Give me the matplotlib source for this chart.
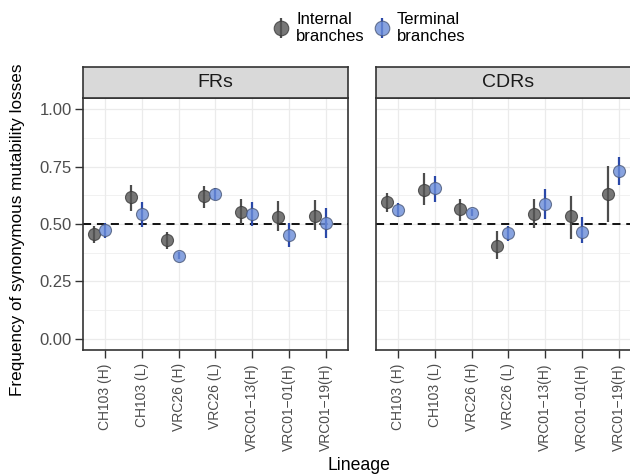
import matplotlib
matplotlib.use('Agg')
import matplotlib.pyplot as plt
from matplotlib.lines import Line2D
from matplotlib.ticker import MultipleLocator, FormatStrFormatter
import numpy as np

plt.rcParams['font.family'] = ['Liberation Sans', 'DejaVu Sans']

lineages = ['CH103 (H)', 'CH103 (L)', 'VRC26 (H)', 'VRC26 (L)',
            'VRC01\u221213(H)', 'VRC01\u221201(H)', 'VRC01\u221219(H)']
panels = ['FRs', 'CDRs']
series_labels = ['Internal\nbranches', 'Terminal\nbranches']

fr_int = [0.456, 0.616, 0.428, 0.622, 0.552, 0.530, 0.536]
fr_int_lo = [0.415, 0.557, 0.392, 0.571, 0.499, 0.470, 0.475]
fr_int_hi = [0.491, 0.670, 0.464, 0.665, 0.608, 0.598, 0.604]
fr_term = [0.473, 0.543, 0.361, 0.630, 0.543, 0.451, 0.505]
fr_term_lo = [0.440, 0.488, 0.345, 0.604, 0.490, 0.399, 0.438]
fr_term_hi = [0.502, 0.595, 0.378, 0.656, 0.595, 0.502, 0.569]

cdr_int = [0.597, 0.648, 0.563, 0.403, 0.541, 0.533, 0.630]
cdr_int_lo = [0.553, 0.582, 0.514, 0.348, 0.483, 0.434, 0.508]
cdr_int_hi = [0.635, 0.721, 0.607, 0.469, 0.608, 0.622, 0.753]
cdr_term = [0.559, 0.658, 0.549, 0.461, 0.588, 0.466, 0.731]
cdr_term_lo = [0.531, 0.597, 0.535, 0.426, 0.523, 0.418, 0.670]
cdr_term_hi = [0.590, 0.709, 0.563, 0.492, 0.652, 0.530, 0.792]

data = {
    'FRs': [(fr_int, fr_int_lo, fr_int_hi), (fr_term, fr_term_lo, fr_term_hi)],
    'CDRs': [(cdr_int, cdr_int_lo, cdr_int_hi), (cdr_term, cdr_term_lo, cdr_term_hi)],
}

line_cols = ['#4d4d4d', '#2a48a8']
fill_cols = ['#555555', '#6a8cd8']
edge_cols = ['#3a3a3a', '#4a5878']
offsets = [-0.3, 0.0]

W, H = 630, 476
fig = plt.figure(figsize=(W / 100, H / 100), dpi=100)

def fx(px):
    return px / W

def fy(py):
    return 1 - py / H

pan_left = [82.7, 375.7]
pan_w = 265.3
pan_top, pan_bot = 97.7, 350.0
strip_top = 67.3

x = np.arange(1, len(lineages) + 1)
for i, name in enumerate(panels):
    ax = fig.add_axes([fx(pan_left[i]), fy(pan_bot), fx(pan_w), (pan_bot - pan_top) / H])
    ax.set_facecolor('white')
    ax.set_xlim(0.4, 7.6)
    ax.set_ylim(-0.05, 1.05)
    ax.yaxis.set_major_locator(MultipleLocator(0.25))
    ax.yaxis.set_minor_locator(MultipleLocator(0.125))
    ax.yaxis.set_major_formatter(FormatStrFormatter('%.2f'))
    ax.set_xticks(x)
    ax.set_xticklabels(lineages, rotation=90)
    ax.grid(True, which='major', color='#ebebeb', lw=0.9, zorder=0)
    ax.grid(True, which='minor', axis='y', color='#ebebeb', lw=0.5, zorder=0)
    ax.set_axisbelow(True)
    ax.tick_params(axis='both', which='major', length=5.5, width=1.0, color='#333333',
                   labelcolor='#4d4d4d')
    ax.tick_params(axis='x', labelsize=10, pad=4)
    ax.tick_params(axis='y', labelsize=12, pad=2.5)
    ax.tick_params(axis='y', which='minor', length=0)
    if i == 1:
        ax.tick_params(axis='y', which='both', left=False, labelleft=False)
    for s in ax.spines.values():
        s.set_color('#333333')
        s.set_linewidth(1.2)
    ax.axhline(0.5, color='black', lw=1.3, ls=(0, (4.5, 3.2)), zorder=2)
    for k, (val, lo, hi) in enumerate(data[name]):
        xs = x + offsets[k]
        ax.vlines(xs, lo, hi, color=line_cols[k], lw=1.6, zorder=3)
        ax.scatter(xs, val, s=75, facecolor=fill_cols[k], edgecolor=edge_cols[k],
                   linewidths=0.8, alpha=0.8, zorder=4)
    # strip
    sax = fig.add_axes([fx(pan_left[i]), fy(pan_top), fx(pan_w), (pan_top - strip_top) / H])
    sax.set_facecolor('#d9d9d9')
    sax.set_xticks([])
    sax.set_yticks([])
    for s in sax.spines.values():
        s.set_color('#333333')
        s.set_linewidth(1.2)
    sax.text(0.5, 0.5, name, ha='center', va='center', fontsize=14, color='#1a1a1a',
             transform=sax.transAxes)

fig.text(fx(359), fy(466), 'Lineage', ha='center', va='center', fontsize=12.7, color='black')
fig.text(fx(18), fy(230), 'Frequency of synonymous mutability losses', rotation=90,
         ha='center', va='center', fontsize=12.3, color='black')

handles = []
for k in range(2):
    vl = Line2D([], [], ls='none', marker='|', markersize=14, markeredgewidth=1.6,
                color=line_cols[k])
    pt = Line2D([], [], ls='none', marker='o', markersize=10.5, markerfacecolor=fill_cols[k],
                markeredgecolor=edge_cols[k], markeredgewidth=0.8, alpha=0.8)
    handles.append((vl, pt))
fig.legend(handles, series_labels, loc='center', bbox_to_anchor=(fx(369), fy(28)),
           ncol=2, frameon=False, fontsize=12, handlelength=1.0, handletextpad=0.4,
           columnspacing=0.5, labelspacing=0.2)

fig.savefig('out.png', dpi=100)
